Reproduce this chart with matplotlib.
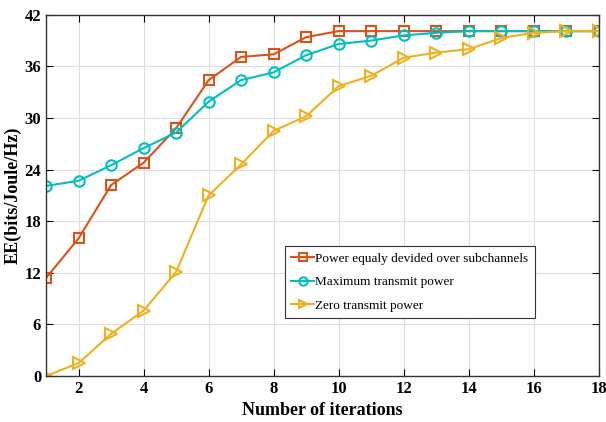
import matplotlib
matplotlib.use("Agg")
from matplotlib import pyplot as plt

iterations = list(range(1, 19))
ee_equal = [11.4, 16.0, 22.2, 24.8, 28.8, 34.4, 37.1, 37.4, 39.4, 40.1,
            40.1, 40.1, 40.1, 40.1, 40.1, 40.1, 40.1, 40.1]
ee_max = [22.1, 22.7, 24.5, 26.5, 28.3, 31.9, 34.4, 35.3, 37.3, 38.6,
          39.0, 39.6, 39.9, 40.1, 40.1, 40.1, 40.1, 40.1]
ee_zero = [0.0, 1.5, 4.9, 7.6, 12.1, 21.0, 24.6, 28.5, 30.2, 33.7,
           34.9, 37.0, 37.6, 38.0, 39.3, 39.9, 40.1, 40.1]
labels = ['Power equaly devided over subchannels',
          'Maximum transmit power',
          'Zero transmit power']

plt.rcParams['font.family'] = ['Liberation Serif', 'DejaVu Serif']

fig = plt.figure(figsize=(6.06, 4.22), dpi=100)
ax = fig.add_axes([0.076, 0.109, 0.912, 0.856])

ax.plot(iterations, ee_equal, color='#D95319', marker='s', markersize=7,
        markerfacecolor='none', markeredgewidth=1.5, linewidth=1.5, label=labels[0])
ax.plot(iterations, ee_max, color='#00BFBF', marker='o', markersize=7.5,
        markerfacecolor='none', markeredgewidth=1.5, linewidth=1.5, label=labels[1])
ax.plot(iterations, ee_zero, color='#EDB120', marker='>', markersize=8,
        markerfacecolor='none', markeredgewidth=1.5, linewidth=1.5, label=labels[2])

ax.set_xlim(1, 18)
ax.set_ylim(0, 42)
ax.set_xticks(range(2, 19, 2))
ax.set_yticks(range(0, 43, 6))
ax.grid(True, color='#dddddd', linewidth=0.8)
ax.tick_params(direction='in', top=True, right=True, length=5, labelsize=12)
for lbl in ax.get_xticklabels() + ax.get_yticklabels():
    lbl.set_fontweight('bold')
for sp in ax.spines.values():
    sp.set_color('#333333')
    sp.set_linewidth(1.0)

ax.set_xlabel('Number of iterations', fontsize=13, fontweight='bold', labelpad=4)
ax.set_ylabel('EE(bits/Joule/Hz)', fontsize=13, fontweight='bold', labelpad=2)

leg = ax.legend(loc='upper left', bbox_to_anchor=(0.432, 0.36), borderaxespad=0,
                fontsize=9.5, fancybox=False, edgecolor='#333333', framealpha=1,
                handlelength=1.7, handletextpad=0.1, borderpad=0.5,
                labelspacing=0.85, markerscale=0.8)
leg.get_frame().set_linewidth(0.8)

fig.savefig('out.png', dpi=100)
